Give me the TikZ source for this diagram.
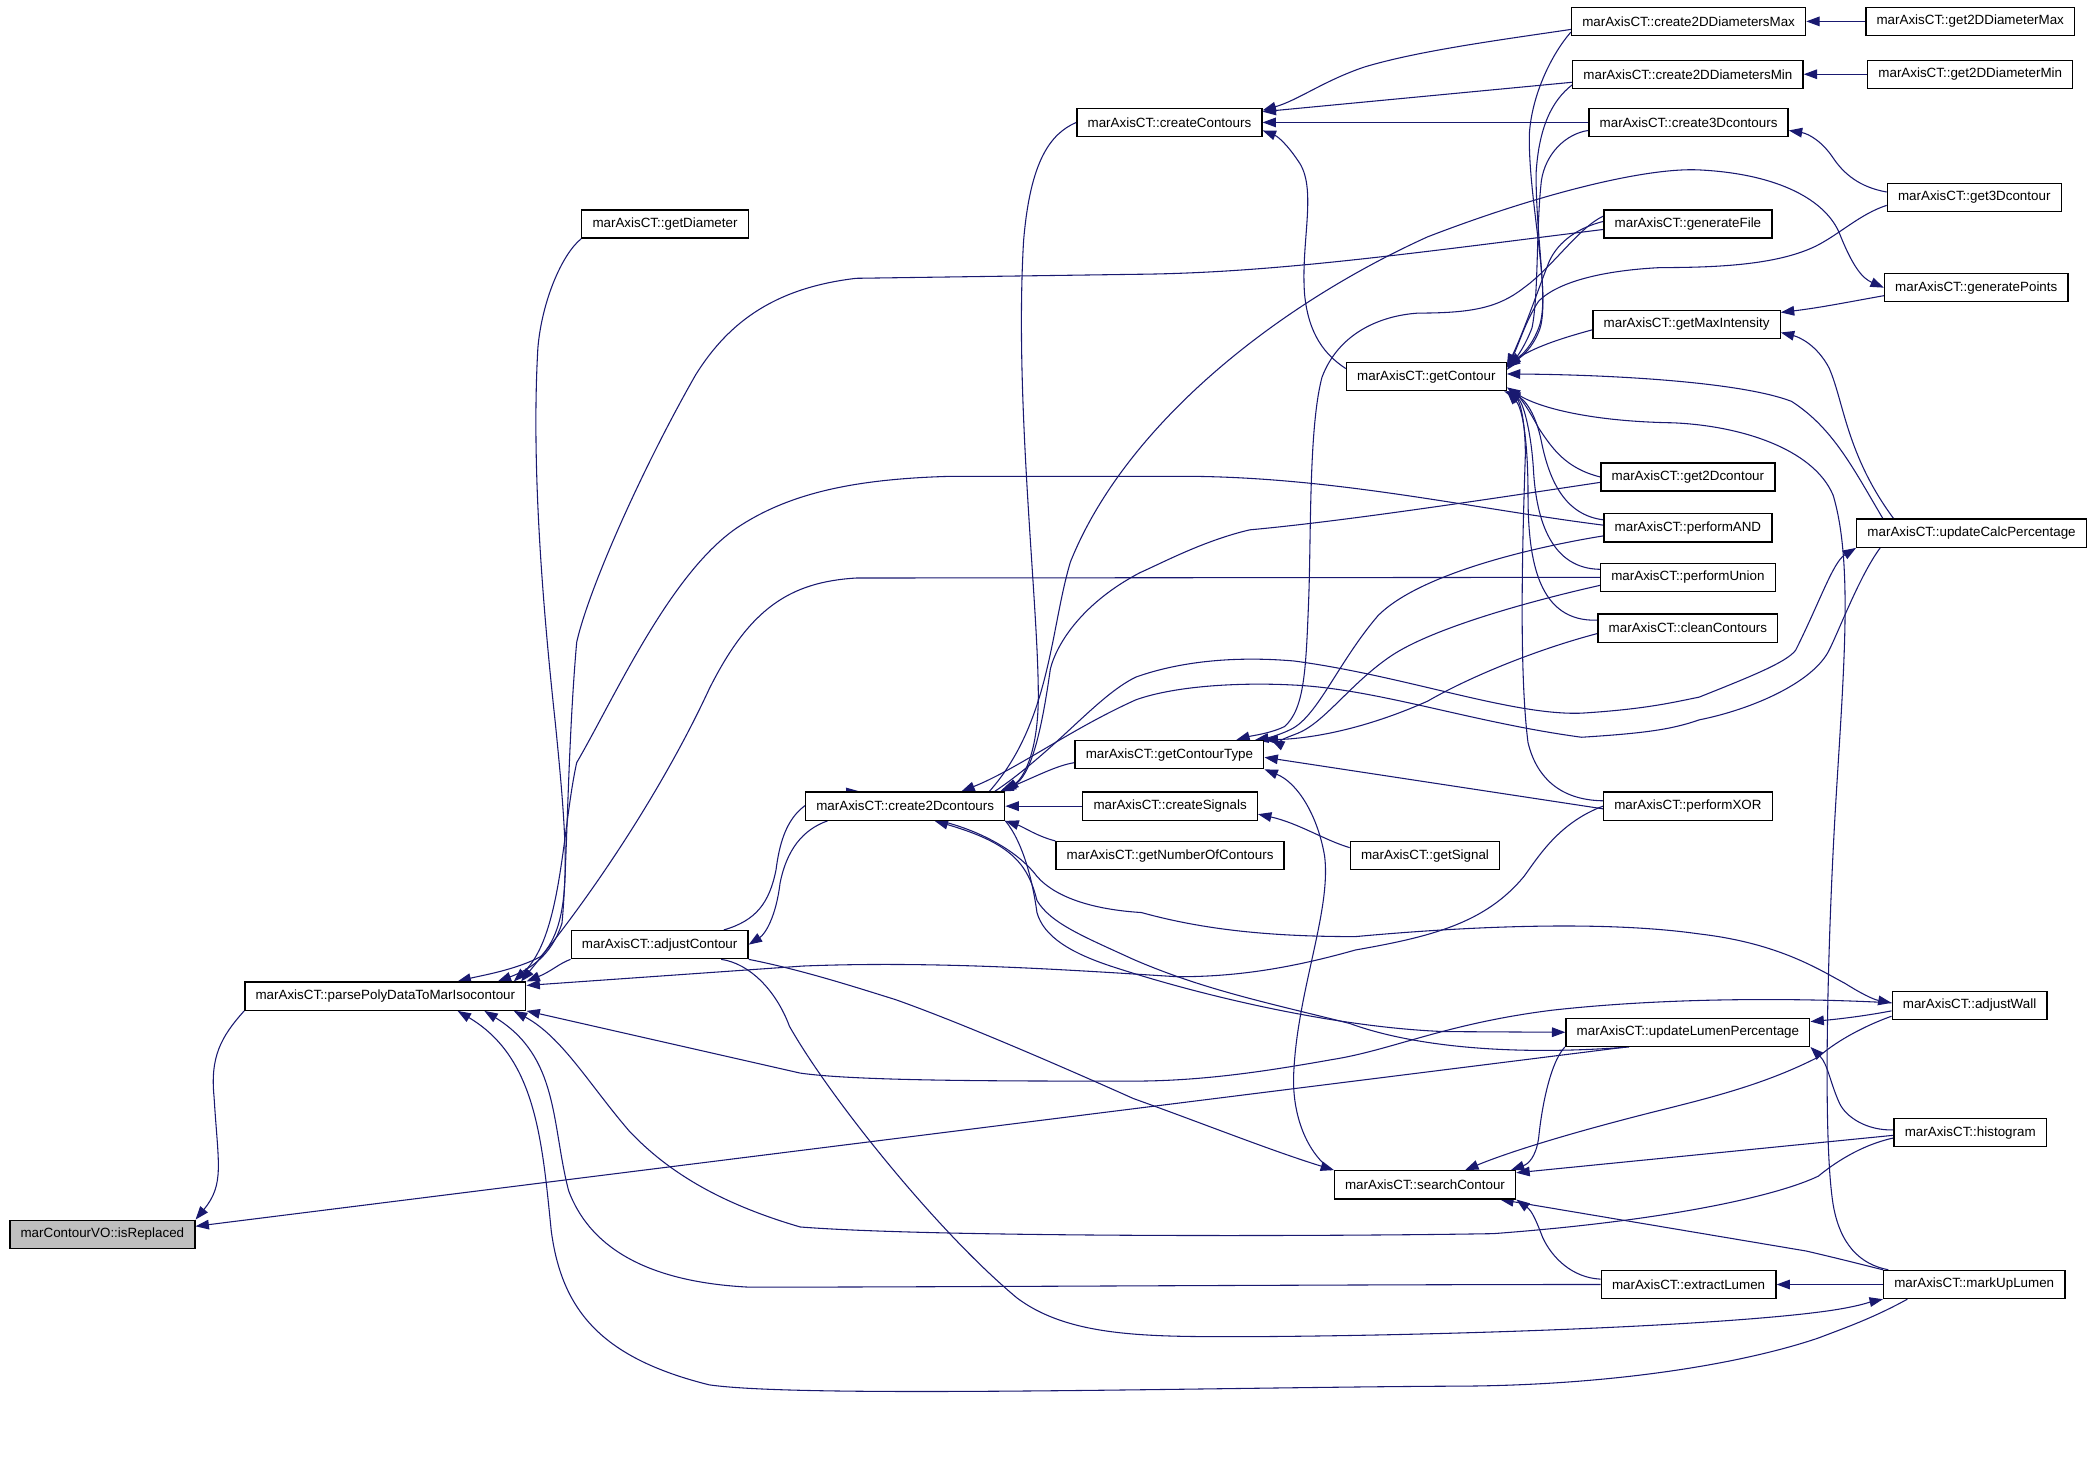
\documentclass[tikz,border=0pt]{standalone}
\usepackage{fontspec}
\setmainfont{Liberation Sans}
\usepackage {tikz}
\usetikzlibrary {arrows.meta}
\definecolor{edgeblue}{HTML}{191970}
\pgfdeclarelayer{bg}
\pgfsetlayers{bg,main}
\tikzset{fn/.style={draw=black, fill=white, line width=0.5pt, inner xsep=4pt, inner ysep=0pt, minimum height=10.5pt, font=\fontsize{5}{6}\selectfont},
root/.style={fn, fill=black!25},
call/.style={draw=edgeblue, line width=0.4pt, -{Triangle[length=5pt,width=3.6pt]}}}
\begin{document}
\begin{tikzpicture}[x=0.5pt,y=-0.5pt]
\useasboundingbox (0,0) rectangle (1568,1090);
\path (76.5,922.5) node[root] (isRep) {marContourVO::isReplaced}
(288,744.5) node[fn] (parse) {marAxisCT::parsePolyDataToMarIsocontour}
(497,167.5) node[fn] (getDiam) {marAxisCT::getDiameter}
(493,706) node[fn] (adjCont) {marAxisCT::adjustContour}
(676.5,602.5) node[fn] (cr2D) {marAxisCT::create2Dcontours}
(874,91.5) node[fn] (crCont) {marAxisCT::createContours}
(874,564) node[fn] (getType) {marAxisCT::getContourType}
(874.5,602.5) node[fn] (crSig) {marAxisCT::createSignals}
(874.5,639.5) node[fn] (getNum) {marAxisCT::getNumberOfContours}
(1066,281.5) node[fn] (getCont) {marAxisCT::getContour}
(1065,639.5) node[fn] (getSig) {marAxisCT::getSignal}
(1065,885.5) node[fn] (search) {marAxisCT::searchContour}
(1262,16) node[fn] (crMax) {marAxisCT::create2DDiametersMax}
(1261.5,55.5) node[fn] (crMin) {marAxisCT::create2DDiametersMin}
(1262,91.5) node[fn] (cr3D) {marAxisCT::create3Dcontours}
(1261.5,167.5) node[fn] (genFile) {marAxisCT::generateFile}
(1260.5,242.5) node[fn] (maxInt) {marAxisCT::getMaxIntensity}
(1261.5,356.5) node[fn] (get2D) {marAxisCT::get2Dcontour}
(1261.5,394.5) node[fn] (pAND) {marAxisCT::performAND}
(1261.5,431.5) node[fn] (pUnion) {marAxisCT::performUnion}
(1261.5,469.5) node[fn] (clean) {marAxisCT::cleanContours}
(1261.5,602.5) node[fn] (pXOR) {marAxisCT::performXOR}
(1261.5,771.5) node[fn] (updLum) {marAxisCT::updateLumenPercentage}
(1262,960) node[fn] (extLum) {marAxisCT::extractLumen}
(1472.5,16) node[fn] (getMax) {marAxisCT::get2DDiameterMax}
(1472.5,55.5) node[fn] (getMin) {marAxisCT::get2DDiameterMin}
(1475.5,147.5) node[fn] (get3D) {marAxisCT::get3Dcontour}
(1477,215) node[fn] (genPts) {marAxisCT::generatePoints}
(1473.5,398.5) node[fn] (updCalc) {marAxisCT::updateCalcPercentage}
(1472,751.5) node[fn] (adjWall) {marAxisCT::adjustWall}
(1472.5,846.5) node[fn] (histo) {marAxisCT::histogram}
(1475.5,960) node[fn] (markUp) {marAxisCT::markUpLumen};
\begin{pgfonlayer}{bg}
\draw[call] (parse.south west) .. controls (165,775) and (157,790) .. (160,820) .. controls (163,870) and (168,885) .. (isRep.north east);
\draw[call] ([xshift=-23pt]updLum.south) -- ([yshift=3pt]isRep.east);
\draw[call] (getDiam.south west) .. controls (420,190) and (405,225) .. (402,260) .. controls (398,330) and (402,420) .. (415,540) .. controls (425,640) and (428,690) .. (404,715) .. controls (385,725) and (360,729) .. ([xshift=27pt]parse.north);
\draw[call] ([yshift=-2pt]genFile.west) .. controls (1050,190) and (950,204) .. (850,205) -- (640,208) .. controls (580,215) and (545,240) .. (520,280) .. controls (480,350) and (440,440) .. (431,480) .. controls (424,560) and (424,650) .. (420,690) .. controls (412,715) and (395,725) .. ([xshift=42pt]parse.north);
\draw[call] ([yshift=1pt]pAND.west) .. controls (1100,380) and (1000,357) .. (890,356) -- (710,356) .. controls (640,358) and (590,368) .. (550,395) .. controls (500,430) and (460,520) .. (431,570) .. controls (420,620) and (420,700) .. ([xshift=48pt]parse.north);
\draw[call] (pUnion.west) -- (640,432) .. controls (590,435) and (560,455) .. (530,515) .. controls (500,580) and (450,660) .. ([xshift=-2pt]parse.north east);
\draw[call] (pXOR.west) .. controls (1165,615) and (1150,640) .. (1139,655) .. controls (1110,690) and (1070,700) .. (1013,710) .. controls (960,725) and (920,730) .. (880,730) .. controls (800,725) and (700,718) .. (600,722) -- ([yshift=4pt]parse.east);
\draw[call] (adjCont.south west) .. controls (418,720) and (412,726) .. (parse.north east);
\draw[call] ([yshift=1pt]adjWall.west) .. controls (1350,746) and (1250,745) .. (1160,755) .. controls (1080,765) and (1040,785) .. (995,792) .. controls (950,800) and (900,808) .. (847,808) .. controls (750,808) and (640,808) .. (598,802) -- (parse.south east);
\draw[call] ([yshift=-2pt]histo.west) .. controls (1390,856) and (1370,870) .. (1359,879) .. controls (1330,893) and (1250,912) .. (1116,922) .. controls (1000,924) and (700,925) .. (598,917) .. controls (540,900) and (500,877) .. (470,845) .. controls (440,810) and (420,775) .. ([xshift=48pt]parse.south);
\draw[call] (extLum.west) .. controls (1000,960) and (700,962) .. (560,962) .. controls (480,958) and (440,930) .. (425,890) .. controls (412,840) and (418,790) .. ([xshift=37pt]parse.south);
\draw[call] ([xshift=-25pt]markUp.south) .. controls (1400,985) and (1380,992) .. (1359,1000) .. controls (1300,1020) and (1200,1036) .. (1084,1036) .. controls (900,1037) and (600,1045) .. (530,1035) .. controls (450,1015) and (420,980) .. (412,920) .. controls (405,850) and (400,790) .. ([xshift=27pt]parse.south);
\draw[call] ([xshift=24pt]adjCont.north) .. controls (565,688) and (575,675) .. (580,650) .. controls (585,610) and (600,595) .. ([xshift=-17pt]cr2D.north);
\draw[call] ([xshift=-29pt]cr2D.south) .. controls (600,620) and (588,635) .. (583,660) .. controls (580,685) and (572,698) .. (adjCont.east);
\draw[call] (crSig.west) -- (cr2D.east);
\draw[call] (getNum.north west) .. controls (775,625) and (765,618) .. (cr2D.south east);
\draw[call] ([yshift=-3pt]getType.west) .. controls (790,572) and (775,580) .. ([xshift=-2pt]cr2D.north east);
\draw[call] (crCont.west) .. controls (785,100) and (770,120) .. (765,180) .. controls (758,300) and (776,450) .. (776,520) .. controls (776,560) and (766,580) .. (cr2D.north east);
\draw[call] ([yshift=-2pt]get2D.west) .. controls (1100,375) and (1000,390) .. (934,396) .. controls (900,404) and (870,420) .. (852,428) .. controls (810,450) and (790,480) .. (785,500) .. controls (778,550) and (770,580) .. ([xshift=-1pt]cr2D.north east);
\draw[call] ([xshift=-6pt]cr2D.north east) .. controls (785,540) and (785,470) .. (800,420) .. controls (840,320) and (950,230) .. (1067,177) .. controls (1150,145) and (1230,125) .. (1270,127) .. controls (1330,130) and (1365,150) .. (1375,175) .. controls (1385,200) and (1392,208) .. (genPts.west);
\draw[call] ([xshift=-4pt]cr2D.north east) .. controls (790,560) and (820,520) .. (849,506) .. controls (880,495) and (920,490) .. (967,494) .. controls (1050,505) and (1130,535) .. (1182,533) .. controls (1230,530) and (1250,525) .. (1270,521) .. controls (1310,505) and (1335,495) .. (1342,486) .. controls (1360,450) and (1370,420) .. (updCalc.south west);
\draw[call] ([xshift=9pt]updCalc.south west) .. controls (1390,430) and (1375,470) .. (1367,486) .. controls (1355,510) and (1310,530) .. (1270,538) .. controls (1250,545) and (1230,548) .. (1182,551) .. controls (1100,540) and (1030,515) .. (967,512) .. controls (930,510) and (880,512) .. (849,523) .. controls (800,545) and (760,575) .. ([xshift=21pt]cr2D.north);
\draw[call] (cr2D.south east) .. controls (765,630) and (772,660) .. (775,682) .. controls (780,700) and (800,712) .. (830,722) .. controls (900,745) and (1000,768) .. (1080,771) -- (updLum.west);
\draw[call] ([xshift=-22pt]updLum.south) .. controls (1120,790) and (1050,780) .. (1009,765) .. controls (950,750) and (900,740) .. (847,717) .. controls (810,700) and (785,690) .. (775,673) .. controls (768,645) and (755,630) .. ([xshift=11pt]cr2D.south);
\draw[call] ([xshift=13pt]cr2D.south) .. controls (730,620) and (760,635) .. (775,655) .. controls (790,672) and (820,680) .. (853,682) .. controls (900,695) and (950,700) .. (1013,700) .. controls (1100,692) and (1200,688) .. (1270,698) .. controls (1330,705) and (1360,725) .. (1379,735) .. controls (1390,742) and (1400,747) .. ([yshift=1pt]adjWall.west);
\draw[call] ([yshift=-2pt]adjWall.west) .. controls (1390,760) and (1370,762) .. ([yshift=4pt]updLum.east);
\draw[call] ([yshift=-4pt]adjWall.west) .. controls (1390,768) and (1370,780) .. (1359,790) .. controls (1320,810) and (1280,820) .. (1240,830) .. controls (1180,845) and (1130,860) .. ([xshift=15pt]search.north);
\draw[call] ([yshift=1pt]histo.west) .. controls (1395,845) and (1380,835) .. (1375,825) .. controls (1368,810) and (1366,795) .. (updLum.south east);
\draw[call] ([yshift=-1pt]histo.west) -- ([yshift=-1pt]search.north east);
\draw[call] ([xshift=-46pt]updLum.south) .. controls (1158,795) and (1152,830) .. (1150,850) .. controls (1148,865) and (1142,870) .. ([xshift=-2pt]search.north east);
\draw[call] ([xshift=-35pt]search.north) .. controls (975,860) and (965,830) .. (967,800) .. controls (970,740) and (995,680) .. (990,640) .. controls (985,610) and (970,585) .. (getType.south east);
\draw[call] (adjCont.south east) .. controls (600,725) and (640,738) .. (669,747) .. controls (720,765) and (800,800) .. (847,821) .. controls (900,840) and (950,860) .. ([xshift=-34pt]search.north);
\draw[call] ([xshift=23pt]adjCont.south) .. controls (560,720) and (580,740) .. (590,767) .. controls (620,820) and (700,920) .. (760,970) .. controls (800,1000) and (860,999) .. (934,999) .. controls (1100,998) and (1300,990) .. (1371,979) .. controls (1390,976) and (1398,973) .. (markUp.south west);
\draw[call] (markUp.west) -- (extLum.east);
\draw[call] (markUp.north west) .. controls (1395,946) and (1380,942) .. (1350,935) -- ([xshift=-6pt]search.south east);
\draw[call] ([yshift=2pt]extLum.west) .. controls (1175,955) and (1160,940) .. (1153,925) .. controls (1148,912) and (1145,905) .. (search.south east);
\draw[call] ([xshift=2pt]markUp.north west) .. controls (1390,945) and (1375,930) .. (1370,900) .. controls (1362,850) and (1366,700) .. (1372,600) .. controls (1378,500) and (1385,420) .. (1370,370) .. controls (1355,335) and (1300,318) .. (1250,316) .. controls (1190,315) and (1150,305) .. ([yshift=-4pt]getCont.east);
\draw[call] ([xshift=10pt]updCalc.north west) .. controls (1385,350) and (1370,320) .. (1339,300) .. controls (1300,285) and (1200,280) .. ([yshift=1pt]getCont.east);
\draw[call] ([xshift=14pt]updCalc.north west) .. controls (1380,340) and (1378,300) .. (1367,275) .. controls (1358,258) and (1345,252) .. ([yshift=-3pt]maxInt.east);
\draw[call] ([yshift=-3pt]genPts.west) .. controls (1380,226) and (1360,230) .. ([yshift=-1pt]maxInt.north east);
\draw[call] ([yshift=2pt]get3D.west) .. controls (1390,140) and (1378,130) .. (1370,118) .. controls (1362,106) and (1352,100) .. ([yshift=-3pt]cr3D.east);
\draw[call] ([yshift=-3pt]get3D.west) .. controls (1390,160) and (1375,175) .. (1357,184) .. controls (1330,197) and (1290,200) .. (1241,200) .. controls (1200,202) and (1165,210) .. (1150,225) .. controls (1140,240) and (1135,258) .. ([yshift=-2pt]getCont.north east);
\draw[call] (getMax.west) -- (crMax.east);
\draw[call] (getMin.west) -- (crMin.east);
\draw[call] ([yshift=-3pt]crMax.west) .. controls (1120,30) and (1060,38) .. (1020,50) .. controls (990,60) and (970,75) .. ([yshift=-1pt]crCont.north east);
\draw[call] ([yshift=-3pt]crMin.west) -- ([yshift=4pt]crCont.east);
\draw[call] (cr3D.west) -- (crCont.east);
\draw[call] ([yshift=3pt]getCont.west) .. controls (990,265) and (978,250) .. (975,220) .. controls (972,180) and (985,140) .. (970,120) .. controls (962,108) and (955,102) .. ([yshift=-3pt]crCont.east);
\draw[call] ([yshift=-4pt]crMax.west) .. controls (1160,40) and (1145,70) .. (1143,100) .. controls (1142,150) and (1160,220) .. (1150,245) .. controls (1145,258) and (1138,265) .. ([yshift=-1pt]getCont.north east);
\draw[call] ([yshift=-4pt]crMin.west) .. controls (1160,75) and (1150,95) .. (1148,130) .. controls (1148,180) and (1158,230) .. (1150,248) .. controls (1145,260) and (1138,266) .. ([yshift=-2pt]getCont.north east);
\draw[call] ([yshift=-3pt]cr3D.west) .. controls (1170,100) and (1155,115) .. (1152,135) .. controls (1148,170) and (1150,220) .. (1145,245) .. controls (1140,258) and (1135,265) .. ([yshift=-3pt]getCont.north east);
\draw[call] ([yshift=1pt]genFile.west) .. controls (1180,170) and (1165,180) .. (1158,195) .. controls (1150,215) and (1140,245) .. ([yshift=-2pt]getCont.north east);
\draw[call] ([yshift=3pt]genFile.west) .. controls (1180,170) and (1160,200) .. (1139,215) .. controls (1120,230) and (1100,234) .. (1060,234) .. controls (1030,236) and (1000,250) .. (988,282) .. controls (978,320) and (980,400) .. (978,450) .. controls (976,500) and (975,530) .. (960,543) .. controls (950,548) and (935,550) .. ([xshift=25pt]getType.north);
\draw[call] ([yshift=-3pt]pAND.west) .. controls (1140,410) and (1060,430) .. (1030,460) .. controls (1000,495) and (985,535) .. (965,545) .. controls (955,550) and (945,552) .. ([xshift=32pt]getType.north);
\draw[call] ([yshift=-3pt]pUnion.west) .. controls (1140,450) and (1070,470) .. (1040,490) .. controls (1010,510) and (990,540) .. (970,548) .. controls (960,552) and (952,554) .. ([xshift=38pt]getType.north);
\draw[call] ([yshift=-2pt]clean.west) .. controls (1150,485) and (1100,505) .. (1067,524) .. controls (1020,545) and (980,552) .. (getType.north east);
\draw[call] ([yshift=-1pt]pXOR.west) -- ([yshift=-1pt]getType.east);
\draw[call] (get2D.west) .. controls (1170,350) and (1160,335) .. (1150,320) .. controls (1142,305) and (1136,297) .. (getCont.south east);
\draw[call] ([yshift=3pt]pAND.west) .. controls (1170,385) and (1158,360) .. (1152,330) .. controls (1148,310) and (1140,298) .. ([xshift=-1pt]getCont.south east);
\draw[call] ([yshift=3pt]pUnion.west) .. controls (1160,425) and (1148,390) .. (1146,350) .. controls (1144,320) and (1138,300) .. (getCont.south east);
\draw[call] ([yshift=3pt]clean.west) .. controls (1150,465) and (1142,420) .. (1142,370) .. controls (1142,330) and (1138,305) .. (getCont.south east);
\draw[call] ([yshift=2pt]pXOR.west) .. controls (1165,598) and (1148,580) .. (1142,555) .. controls (1135,500) and (1138,400) .. (1140,340) .. controls (1140,315) and (1136,300) .. (getCont.south east);
\draw[call] ([yshift=-2pt]maxInt.west) .. controls (1170,252) and (1150,258) .. ([yshift=-1pt]getCont.north east);
\draw[call] ([yshift=3pt]getSig.west) .. controls (990,628) and (970,615) .. ([yshift=-3pt]crSig.east);
\end{pgfonlayer}
\end{tikzpicture}
\end{document}
